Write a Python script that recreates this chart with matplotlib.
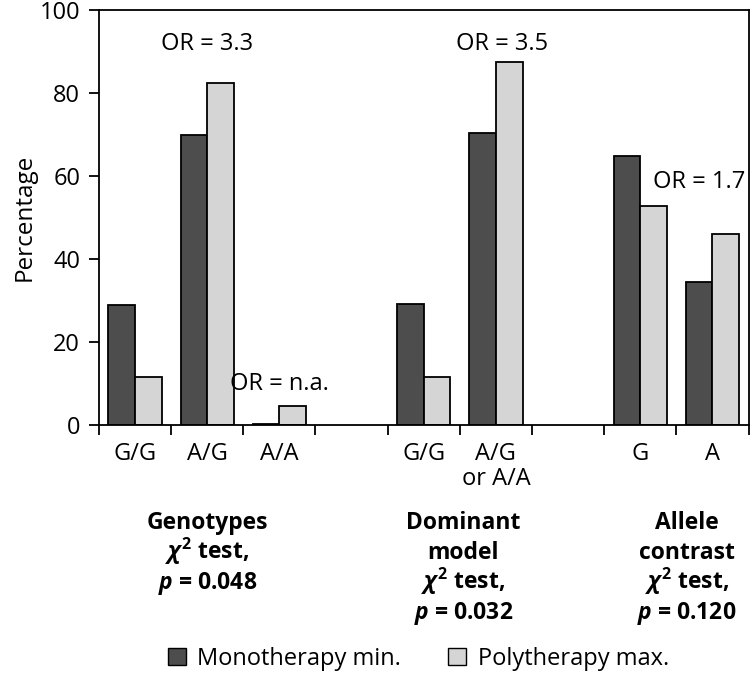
import numpy as np
import matplotlib
matplotlib.use("Agg")
import matplotlib.pyplot as plt
from matplotlib.patches import Patch
from matplotlib.transforms import blended_transform_factory

plt.rcParams['font.family'] = ['Open Sans', 'DejaVu Sans']
plt.rcParams['mathtext.fontset'] = 'custom'
plt.rcParams['mathtext.rm'] = 'Open Sans:bold'
plt.rcParams['mathtext.it'] = 'Open Sans:italic:bold'

# slots along the x axis (empty strings are spacer slots)
categories = ['G/G', 'A/G', 'A/A', '', 'G/G', 'A/G\nor A/A', '', 'G', 'A']
mono = [29.0, 70.0, 0.3, np.nan, 29.2, 70.3, np.nan, 64.8, 34.5]
poly = [11.5, 82.5, 4.6, np.nan, 11.6, 87.5, np.nan, 52.9, 46.0]

or_labels = ['OR = 3.3', 'OR = n.a.', 'OR = 3.5', 'OR = 1.7']
or_slots = [1, 2, 5.08, 7.82]
or_y = [91.8, 9.9, 91.8, 58.5]

groups = [['Genotypes', '$\\chi^2$ test,', '$\\mathit{p}$ = 0.048'],
          ['Dominant', 'model', '$\\chi^2$ test,', '$\\mathit{p}$ = 0.032'],
          ['Allele', 'contrast', '$\\chi^2$ test,', '$\\mathit{p}$ = 0.120']]
group_x = [1.0, 4.55, 7.65]

dark = '#4d4d4d'
light = '#d5d5d5'

fig = plt.figure(figsize=(7.5, 6.73), dpi=100)
ax = fig.add_axes([0.132, 0.3685, 0.866, 0.6165])

x = np.arange(len(categories))
w = 0.37
ax.bar(x - w / 2, mono, w, color=dark, edgecolor='black', linewidth=1.3)
ax.bar(x + w / 2, poly, w, color=light, edgecolor='black', linewidth=1.3)

ax.set_xlim(-0.5, len(categories) - 0.5)
ax.set_ylim(0, 100)
ax.set_yticks(np.arange(0, 101, 20))
ax.set_xticks(np.arange(-0.5, len(categories), 1))
ax.set_xticklabels([])
ax.set_xticks(x, minor=True)
ax.set_xticklabels(categories, minor=True, fontsize=17, linespacing=1.1)
ax.tick_params(axis='x', which='minor', length=0, pad=12)
ax.tick_params(axis='x', which='major', length=7.5, width=1.3)
ax.tick_params(axis='y', length=7.5, width=1.3, labelsize=17, pad=6)
for s in ax.spines.values():
    s.set_linewidth(1.3)
ax.set_ylabel('Percentage', fontsize=17.5, labelpad=2)

for lab, sx, sy in zip(or_labels, or_slots, or_y):
    ax.text(sx, sy, lab, ha='center', va='center', fontsize=17)

# group captions below the axis, one line at a time (baselines in pixels)
tr = blended_transform_factory(ax.transData, fig.transFigure)
for lines, gx in zip(groups, group_x):
    for i, line in enumerate(lines):
        fig.text(gx, 1 - (529 + 30 * i) / 673, line, transform=tr,
                 ha='center', va='baseline', fontsize=16.5, fontweight='bold')

handles = [Patch(facecolor=dark, edgecolor='black', label='Monotherapy min.'),
           Patch(facecolor=light, edgecolor='black', label='Polytherapy max.')]
fig.legend(handles=handles, loc='center', bbox_to_anchor=(0.558, 1 - 659 / 673),
           ncol=2, frameon=False, fontsize=17, handlelength=0.75, handleheight=0.75,
           handletextpad=0.5, columnspacing=2.0)

fig.savefig('out.png', dpi=100)
